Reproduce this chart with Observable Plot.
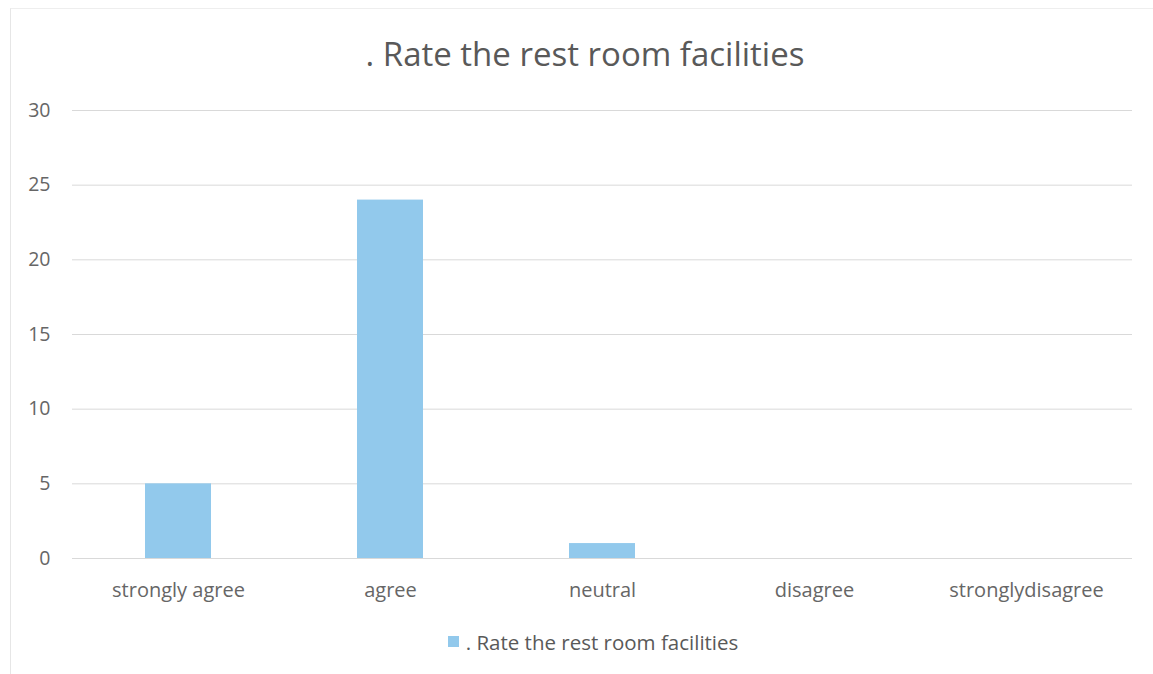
<!DOCTYPE html>
<html>
<head>
<meta charset="utf-8">
<script src="https://cdn.jsdelivr.net/npm/d3@7"></script>
<script src="https://cdn.jsdelivr.net/npm/@observablehq/plot@0.6"></script>
<style>
  body { margin: 0; background: #fff; font-family: "Open Sans", sans-serif; }
  #wrap { position: relative; width: 1153px; height: 674px; overflow: hidden; }
  #frame { position: absolute; left: 10px; top: 8px; width: 1160px; height: 700px; border-left: 1px solid #e6e6e6; border-top: 1px solid #eeeeee; }
  #title { position: absolute; top: 31px; left: 0; width: 1170px; text-align: center; font-size: 33px; color: #595959; }
  #chart { position: absolute; top: 95px; left: 0; }
  #legend { position: absolute; top: 628px; left: 0; width: 1186px; text-align: center; font-size: 20.5px; color: #595959; }
  #legend .sw { display: inline-block; width: 11px; height: 11px; background: #92c9ec; margin-right: 7px; vertical-align: 3px; }
</style>
</head>
<body>
<div id="wrap">
  <div id="frame"></div>
  <div id="title"></div>
  <div id="chart"></div>
  <div id="legend"></div>
</div>
<script>
const titleText = ". Rate the rest room facilities";
const categories = ["strongly agree", "agree", "neutral", "disagree", "stronglydisagree"];
const values = [5, 24, 1, 0, 0];
const yTicks = [0, 5, 10, 15, 20, 25, 30];
const barColor = "#92c9ec";

const data = categories.map((c, i) => ({category: c, value: values[i]}));

document.getElementById("title").textContent = titleText;
document.getElementById("legend").innerHTML = '<span class="sw"></span>' + titleText;

const chart = Plot.plot({
  width: 1153,
  height: 513,
  marginLeft: 72,
  marginRight: 21,
  marginTop: 15,
  marginBottom: 50,
  style: {fontFamily: "'Open Sans', sans-serif", fontSize: "16px", color: "#666666", background: "transparent"},
  x: {domain: categories, paddingInner: 0.69, paddingOuter: 0.345, label: null},
  y: {domain: [0, 30], label: null},
  marks: [
    Plot.gridY(yTicks, {stroke: "#d9d9d9", strokeOpacity: 1, strokeWidth: 1}),
    Plot.barY(data, {x: "category", y: "value", fill: barColor}),
    Plot.axisY(yTicks, {tickSize: 0, tickPadding: 22, fontSize: 19.5, fill: "#666666"}),
    Plot.axisX({tickSize: 0, tickPadding: 24, fontSize: 20, fill: "#666666"})
  ]
});
document.getElementById("chart").appendChild(chart);
</script>
</body>
</html>
